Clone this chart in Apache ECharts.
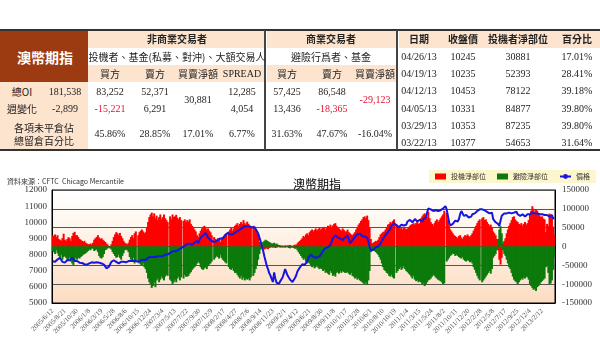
<!DOCTYPE html>
<html><head><meta charset="utf-8">
<script src="https://cdn.jsdelivr.net/npm/echarts/dist/echarts.min.js"></script>
<style>
body{margin:0;background:#fff;width:600px;height:364px;overflow:hidden;position:relative;font-family:"Liberation Serif",serif;}
#chart{position:absolute;left:0;top:0;width:600px;height:364px;}
#tbl{position:absolute;left:0;top:0;width:600px;height:160px;}
.c{position:absolute;transform:translate(-50%,-50%);white-space:nowrap;line-height:1;color:#222;}
.cjk{font-family:"Noto Sans CJK TC",sans-serif;}
.b{font-weight:bold}
.bg{position:absolute}
</style></head><body>
<div id="chart"></div><div id="tbl"></div>
<script>
// ---------- table data ----------
const tableTitle = '澳幣期指';
const groupNonComm = '非商業交易者';
const groupComm = '商業交易者';
const descNonComm = '投機者、基金(私募、對沖)、大額交易人';
const descComm = '避險行爲者、基金';
const nonCommHeaders = ['買方', '賣方', '買賣淨額', 'SPREAD'];
const commHeaders = ['買方', '賣方', '買賣淨額'];
const rowLabels = ['總OI', '週變化'];
const pctLabel = ['各項未平倉佔', '總留倉百分比'];
const totalOI = '181,538';
const weeklyChange = '-2,899';
const nonCommOI = ['83,252', '52,371', '30,881', '12,285'];
const nonCommChg = ['-15,221', '6,291', null, '4,054'];
const nonCommPct = ['45.86%', '28.85%', '17.01%', '6.77%'];
const commOI = ['57,425', '86,548', '-29,123'];
const commChg = ['13,436', '-18,365', null];
const commPct = ['31.63%', '47.67%', '-16.04%'];
const recentHeaders = ['日期', '收盤價', '投機者淨部位', '百分比'];
const recentDates = ['04/26/13', '04/19/13', '04/12/13', '04/05/13', '03/29/13', '03/22/13'];
const recentClose = ['10245', '10235', '10453', '10331', '10353', '10377'];
const recentSpecNet = ['30881', '52393', '78122', '84877', '87235', '54653'];
const recentPct = ['17.01%', '28.41%', '39.18%', '39.80%', '39.80%', '31.64%'];
const redValues = ['-15,221', '-18,365', '-29,123'];

// ---------- chart data ----------
const chartTitle = '澳幣期指';
const sourceText = '資料來源：CFTC  Chicago Mercantile';
const seriesNames = ['投機淨部位', '避險淨部位', '價格'];
const tickLabels = ['2005/6/12','2005/8/21','2005/10/30','2006/1/8','2006/3/19','2006/5/28','2006/8/6','2006/10/15','2006/12/24','2007/3/4','2007/5/13','2007/7/22','2007/9/30','2007/12/9','2008/2/17','2008/4/27','2008/7/6','2008/9/14','2008/11/23','2009/2/1','2009/4/12','2009/6/21','2009/8/30','2009/11/8','2010/1/17','2010/3/28','2010/6/1','2010/8/10','2010/10/19','2011/1/4','2011/3/15','2011/5/24','2011/8/2','2011/10/11','2011/12/20','2012/2/28','2012/5/8','2012/7/17','2012/9/25','2012/12/4','2013/2/12'];

const specNet = [
30000,28000,32000,25000,30000,20000,18000,15000,22000,34000,
18000,15000,20000,25000,22000,15000,28000,36000,39000,30000,
30000,25000,20000,18000,15000,12000,15000,10000,8000,6000,
6000,8000,5000,10000,18000,22000,25000,30000,24000,20000,
22000,18000,15000,12000,8000,5000,-3000,-5000,6000,15000,
25000,32000,38000,35000,30000,36000,28000,22000,15000,10000,
8000,6000,10000,18000,25000,30000,22000,35000,40000,null,
30000,38000,42000,45000,40000,35000,38000,50000,65000,78000,
85000,90000,80000,88000,75000,82000,70000,78000,85000,72000,
78000,85000,75000,70000,65000,null,80000,72000,85000,78000,
80000,84000,76000,72000,78000,70000,null,68000,72000,65000,
70000,66000,72000,60000,55000,50000,45000,40000,30000,25000,
35000,42000,48000,52000,55000,50000,45000,48000,42000,38000,
30000,null,25000,20000,15000,22000,18000,12000,20000,25000,
28000,32000,35000,null,40000,45000,50000,42000,48000,55000,
58000,62000,55000,60000,65000,60000,70000,62000,58000,66000,
60000,55000,52000,null,55000,48000,45000,40000,25000,12000,
5000,-2000,-5000,-8000,-6000,-5000,-7000,-4000,-3000,-2000,
-3000,-2000,-4000,-3000,-2000,2000,-3000,3000,2000,-2000,
3000,2000,-2000,3000,4000,-3000,2000,3000,5000,4000,
8000,12000,15000,18000,22000,28000,25000,32000,35000,30000,
38000,42000,45000,40000,44000,48000,42000,46000,50000,45000,
48000,50000,52000,45000,50000,55000,53000,58000,50000,56000,
60000,62000,55000,50000,48000,45000,42000,48000,44000,40000,
40000,45000,38000,35000,32000,30000,34000,38000,45000,52000,
58000,62000,68000,72000,78000,80000,75000,82000,70000,50000,
20000,8000,10000,12000,15000,14000,18000,25000,32000,35000,
38000,40000,45000,52000,58000,60000,65000,62000,68000,72000,
null,60000,55000,50000,48000,52000,45000,50000,48000,46000,
48000,52000,55000,58000,60000,62000,58000,62000,65000,60000,
62000,75000,80000,85000,88000,82000,78000,92000,75000,65000,
60000,55000,62000,68000,72000,65000,70000,75000,80000,85000,
95000,null,90000,70000,55000,45000,40000,35000,30000,28000,
25000,22000,28000,30000,24000,20000,26000,30000,28000,32000,
28000,25000,30000,35000,42000,48000,55000,62000,68000,72000,
null,75000,78000,70000,72000,65000,60000,55000,58000,50000,
40000,35000,30000,20000,-10000,-35000,-48000,-30000,10000,15000,
22000,35000,45000,55000,62000,70000,78000,80000,72000,68000,
65000,60000,58000,62000,55000,60000,65000,58000,62000,70000,
85000,95000,107000,100000,92000,98000,95000,88000,82000,78000,
80000,74000,72000,38000,60000,54653,87235,84877,78122,52393,30881
];

const hedgeNet = [
-12000,-15000,-20000,-10000,-18000,-25000,-30000,-22000,-35000,-28000,
-25000,-30000,-38000,-35000,-30000,-40000,-45000,-50000,-38000,-30000,
-35000,-30000,-32000,-28000,-25000,-22000,-20000,-18000,-15000,-12000,
-8000,-10000,-5000,-6000,-12000,-10000,-8000,-15000,-25000,-30000,
-32000,-28000,-20000,-10000,-8000,-5000,-2000,1000,-8000,-15000,
-20000,-25000,-30000,-28000,-22000,-30000,-35000,-25000,-18000,-10000,
-8000,-10000,-15000,-28000,-35000,-40000,-30000,-45000,-38000,null,
-40000,-45000,-48000,-50000,-45000,-55000,-60000,-70000,-85000,-95000,
-100000,-110000,-105000,-95000,-108000,-90000,-85000,-95000,-88000,-80000,
-85000,-90000,-80000,-75000,-78000,null,-88000,-92000,-100000,-95000,
-88000,-95000,-85000,-80000,-90000,-82000,null,-85000,-75000,-80000,
-80000,-78000,-72000,-68000,-62000,-58000,-55000,-50000,-45000,-40000,
-45000,-55000,-60000,-62000,-58000,-55000,-60000,-52000,-48000,-45000,
-40000,null,-35000,-30000,-25000,-28000,-32000,-22000,-30000,-35000,
-38000,-42000,-45000,null,-55000,-60000,-62000,-58000,-65000,-70000,
-70000,-75000,-80000,-85000,-78000,-88000,-82000,-90000,-85000,-88000,
-85000,-90000,-82000,null,-78000,-70000,-60000,-50000,-35000,-20000,
-8000,5000,12000,15000,18000,16000,14000,12000,10000,8000,
8000,10000,6000,8000,5000,4000,3000,-2000,-3000,2000,
-3000,-2000,3000,-4000,-5000,2000,-3000,-4000,-6000,-5000,
-10000,-15000,-20000,-25000,-30000,-35000,-32000,-40000,-45000,-42000,
-45000,-50000,-55000,-52000,-58000,-55000,-50000,-56000,-60000,-58000,
-60000,-65000,-62000,-70000,-68000,-72000,-75000,-65000,-70000,-78000,
-75000,-80000,-70000,-68000,-72000,-66000,-70000,-65000,-68000,-70000,
-70000,-68000,-72000,-75000,-70000,-78000,-80000,-85000,-82000,-88000,
-85000,-90000,-92000,-95000,-98000,-100000,-95000,-102000,-90000,-65000,
-15000,-8000,-10000,-12000,-15000,-18000,-22000,-28000,-35000,-45000,
-55000,-62000,-65000,-70000,-72000,-78000,-80000,-75000,-82000,-85000,
null,-70000,-65000,-60000,-55000,-62000,-58000,-52000,-60000,-65000,
-68000,-72000,-75000,-80000,-85000,-78000,-88000,-92000,-90000,-95000,
-92000,-95000,-100000,-98000,-105000,-100000,-95000,-90000,-88000,-85000,
-80000,-75000,-78000,-82000,-85000,-88000,-90000,-92000,-95000,-100000,
-98000,null,-40000,-35000,-30000,-25000,-22000,-18000,-20000,-25000,
-22000,-25000,-28000,-30000,-32000,-28000,-35000,-38000,-40000,-36000,
-38000,-42000,-40000,-45000,-55000,-62000,-70000,-78000,-85000,-90000,
null,-95000,-90000,-85000,-80000,-75000,-70000,-65000,-72000,-60000,
-30000,-25000,-20000,-10000,20000,45000,54000,35000,-10000,-20000,
-25000,-35000,-45000,-55000,-60000,-70000,-80000,-88000,-92000,-95000,
-100000,-95000,-90000,-85000,-88000,-82000,-85000,-80000,-82000,-88000,
-100000,-105000,-110000,-115000,-112000,-118000,-108000,-105000,-100000,-95000,
-92000,-88000,-85000,-55000,-50000,-70000,-100000,-98000,-90000,-62000,-29123
];

const price = [
7580,7600,7550,7620,7700,7780,7790,7700,7550,7480,
7500,7550,7650,7700,7650,7750,7800,7700,7600,7550,
7600,7550,7500,7520,7480,7420,7400,7450,7380,7400,
7450,7500,7520,7550,7500,7480,7520,7550,7500,7450,
7450,7400,7380,7300,7150,7100,7250,7400,7550,7650,
7650,7600,7550,7500,7450,7500,7550,7600,7550,7500,
7520,7550,7600,7650,7600,7550,7620,7650,7600,7580,
7550,7600,7650,7600,7680,7700,7650,7750,7800,7850,
7850,7800,7850,7900,7850,7880,7900,7950,7900,7850,
7900,7950,8000,8050,8000,8050,8100,8150,8200,8180,
8200,8280,8250,8300,8350,8400,8450,8500,8550,8600,
8650,8700,8680,8650,8600,8700,8750,8800,8850,8700,
8900,9050,9150,9200,9300,9330,9200,9050,8950,8900,
8850,8800,8750,8800,8850,8900,8950,9000,8950,9000,
9100,9200,9300,9340,9300,9250,9200,9250,9300,9350,
9400,9450,9500,9550,9600,9650,9700,9750,9720,9760,
9700,9750,9720,9680,9650,9700,9600,9450,9300,9050,
8800,8500,8250,7900,7600,7300,7100,6850,6700,6500,
6300,6900,6500,6250,6300,6200,6350,6400,6600,6700,
7100,6900,6700,6600,6450,6400,6300,6350,6550,6700,
6950,7050,7200,7300,7400,7500,7350,7300,7600,7800,
7900,8000,7950,7850,7750,7800,7700,7850,7900,7950,
8100,8250,8300,8400,8350,8450,8500,8600,8800,9000,
9100,9200,9150,9050,8950,9000,9100,8900,9000,9050,
9150,9200,9100,8700,8600,8900,9000,9100,9200,9250,
9200,9300,9250,9150,9200,9100,9150,9050,8800,8500,
8250,8200,8300,8400,8450,8400,8500,8600,8700,8850,
9000,9100,9200,9300,9400,9500,9600,9800,9900,9950,
9900,9800,9750,9700,9800,9850,9750,9800,9900,9850,
10050,10100,10150,10050,10000,10100,10200,10150,10050,10100,
10150,10100,10050,10200,10150,10300,10600,10850,10750,10800,
10750,10700,10650,10750,10800,10700,10650,10750,10800,10850,
10950,11000,10800,10400,10000,9800,9780,9900,10000,10100,
10150,10050,10200,10500,10700,10600,10400,10300,10450,10350,
10300,10400,10350,10500,10450,10550,10600,10700,10750,10800,
10750,10800,10700,10750,10800,10650,10600,10550,10500,10600,
10200,10100,10000,10050,9900,9770,10100,10400,10500,10550,
10600,10550,10500,10600,10650,10550,10500,10600,10550,10650,
10500,10450,10400,10450,10500,10400,10350,10450,10500,10400,
10500,10550,10600,10500,10550,10600,10550,10450,10500,10550,
10500,10550,10450,10400,10450,10377,10353,10331,10453,10235,10245
];

// ---------- table drawing ----------
const tbl = document.getElementById('tbl');
function rect(x, y, w, h, color) {
  const d = document.createElement('div');
  d.className = 'bg';
  d.style.cssText = `left:${x}px;top:${y}px;width:${w}px;height:${h}px;background:${color};`;
  tbl.appendChild(d);
}
function txt(s, x, y, opts) {
  opts = opts || {};
  const d = document.createElement('div');
  d.className = 'c' + (opts.cjk ? ' cjk' : '') + (opts.bold ? ' b' : '');
  d.textContent = s;
  d.style.left = x + 'px';
  d.style.top = y + 'px';
  d.style.fontSize = (opts.size || 10) + 'px';
  if (opts.color) d.style.color = opts.color;
  else if (redValues.indexOf(s) >= 0) d.style.color = '#e8102e';
  tbl.appendChild(d);
}
const PEACH = '#fce4cf';
const BROWN = '#9c3b12';
rect(0, 30, 88, 52, BROWN);
rect(0, 82, 88, 68, PEACH);
rect(88, 30, 177, 18, PEACH);
rect(267, 30, 130, 18, PEACH);
rect(88, 65, 177, 17, PEACH);
rect(267, 65, 130, 17, PEACH);
rect(399, 30, 201, 18, PEACH);
rect(0, 29, 600, 2, '#333');
rect(0, 149, 600, 2, '#333');
rect(264, 30, 2, 120, '#444');
rect(396, 30, 2, 120, '#444');

txt(tableTitle, 45, 57, {cjk: true, bold: true, size: 14, color: '#fff'});
txt(groupNonComm, 177, 39, {cjk: true, bold: true, size: 10});
txt(groupComm, 331, 39, {cjk: true, bold: true, size: 10});
txt(descNonComm, 177, 56.5, {cjk: true, size: 10});
txt(descComm, 331, 56.5, {cjk: true, size: 10});
const ncX = [110, 155, 198, 242];
const cX = [287, 332, 375];
nonCommHeaders.forEach((h, i) => txt(h, ncX[i], 73.5, {cjk: h !== 'SPREAD', size: 10}));
commHeaders.forEach((h, i) => txt(h, cX[i], 73.5, {cjk: true, size: 10}));
txt(rowLabels[0], 22, 92, {cjk: true, size: 10});
txt(totalOI, 65, 92, {size: 10});
txt(rowLabels[1], 22, 109, {cjk: true, size: 10});
txt(weeklyChange, 65, 109, {size: 10});
txt(pctLabel[0], 44, 128, {cjk: true, size: 10});
txt(pctLabel[1], 44, 141, {cjk: true, size: 10});
nonCommOI.forEach((v, i) => txt(v, ncX[i], i === 2 ? 100 : 92, {size: 10}));
nonCommChg.forEach((v, i) => { if (v) txt(v, ncX[i], 109, {size: 10}); });
nonCommPct.forEach((v, i) => txt(v, ncX[i], 134, {size: 10}));
commOI.forEach((v, i) => txt(v, cX[i], i === 2 ? 100 : 92, {size: 10}));
commChg.forEach((v, i) => { if (v) txt(v, cX[i], 109, {size: 10}); });
commPct.forEach((v, i) => txt(v, cX[i], 134, {size: 10}));
const rX = [419, 463, 518, 577];
recentHeaders.forEach((h, i) => txt(h, rX[i], 39, {cjk: true, bold: true, size: 10}));
const rY = [57, 74, 91, 109, 126, 143];
recentDates.forEach((v, j) => {
  txt(v, rX[0], rY[j], {size: 10});
  txt(recentClose[j], rX[1], rY[j], {size: 10});
  txt(recentSpecNet[j], rX[2], rY[j], {size: 10});
  txt(recentPct[j], rX[3], rY[j], {size: 10});
});

// ---------- chart ----------
const categories = price.map((_, i) => (i % 10 === 0 && tickLabels[i / 10] ? tickLabels[i / 10] : 'w' + i));
const chart = echarts.init(document.getElementById('chart'), null, {renderer: 'canvas'});
const option = {
  animation: false,
  backgroundColor: '#fff',
  title: [
    {text: chartTitle, left: 288, top: 173, textStyle: {fontFamily: 'Noto Sans CJK TC', fontSize: 12, fontWeight: 'normal', color: '#000'}},
    {text: sourceText, left: 2, top: 173, textStyle: {fontFamily: 'Noto Sans CJK TC', fontSize: 7, fontWeight: 'normal', color: '#333'}}
  ],
  legend: {
    right: 4, top: 170, backgroundColor: '#fdf6cc', padding: [3, 6], itemGap: 11,
    itemWidth: 11, itemHeight: 6, width: 200,
    textStyle: {fontFamily: 'Noto Sans CJK TC', fontSize: 7, color: '#333'},
    data: [{name: seriesNames[0], icon: 'rect'}, {name: seriesNames[1], icon: 'rect'}, {name: seriesNames[2]}]
  },
  grid: {
    left: 52, right: 45, top: 190, bottom: 61, show: true, borderColor: '#000', borderWidth: 1,
    backgroundColor: new echarts.graphic.LinearGradient(0, 0, 0, 1, [
      {offset: 0, color: '#ffffff'}, {offset: 0.2, color: '#fffaf5'}, {offset: 1, color: '#fcdcc1'}
    ])
  },
  xAxis: {
    type: 'category', data: categories, boundaryGap: true,
    axisLine: {onZero: false, lineStyle: {color: '#000'}},
    axisTick: {show: false},
    axisLabel: {interval: 9, rotate: 45, fontSize: 7, color: '#555', fontFamily: 'Liberation Serif', margin: 7,
      formatter: v => (v.charAt(0) === 'w' ? '' : v)},
    splitLine: {show: false}
  },
  yAxis: [
    {type: 'value', min: 5000, max: 12000, interval: 1000, position: 'left',
     axisLine: {show: true, lineStyle: {color: '#000'}}, axisTick: {show: false},
     axisLabel: {fontSize: 9, color: '#333', fontFamily: 'Liberation Serif', margin: 5, formatter: v => String(v)},
     splitLine: {show: false}},
    {type: 'value', min: -150000, max: 150000, interval: 50000, position: 'right',
     axisLine: {show: true, lineStyle: {color: '#000'}}, axisTick: {show: false},
     axisLabel: {fontSize: 9, color: '#333', fontFamily: 'Liberation Serif', margin: 7, formatter: v => String(v)},
     splitLine: {show: true, lineStyle: {color: '#555', width: 1}}}
  ],
  series: [
    {name: seriesNames[0], type: 'bar', yAxisIndex: 1, data: specNet, itemStyle: {color: '#ff0000'},
     barWidth: 2, barGap: '-100%', z: 2},
    {name: seriesNames[1], type: 'bar', yAxisIndex: 1, data: hedgeNet, itemStyle: {color: '#0b7a0b'},
     barWidth: 2, barGap: '-100%', z: 2},
    {name: seriesNames[2], type: 'line', yAxisIndex: 0, data: price, symbol: 'none', showSymbol: false,
     lineStyle: {color: '#1515e0', width: 2}, itemStyle: {color: '#1515e0'}, z: 5}
  ]
};
chart.setOption(option);
</script>
</body></html>
